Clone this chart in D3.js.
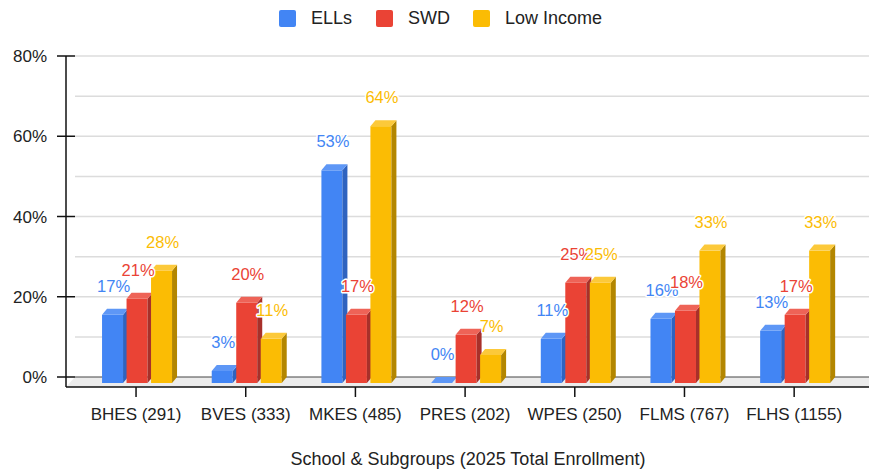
<!DOCTYPE html>
<html>
<head>
<meta charset="utf-8">
<script src="https://cdn.jsdelivr.net/npm/d3@7"></script>
<style>
  body { margin: 0; background: #fff; }
  text { font-family: Arial, "Liberation Sans", sans-serif; fill: #222; }
</style>
</head>
<body>
<div id="chart"></div>
<script>
/* DATA */
const schools = ["BHES (291)", "BVES (333)", "MKES (485)", "PRES (202)", "WPES (250)", "FLMS (767)", "FLHS (1155)"];
const seriesNames = ["ELLs", "SWD", "Low Income"];
const ells = [17, 3, 53, 0, 11, 16, 13];
const swd = [21, 20, 17, 12, 25, 18, 17];
const lowIncome = [28, 11, 64, 7, 25, 33, 33];
const yTicks = [0, 20, 40, 60, 80];

/* CONSTANTS */
const width = 869, height = 469;
const colors = {
  "ELLs": { front: "#4285f4", top: "#5e97f6", side: "#2f63bf" },
  "SWD": { front: "#ea4335", top: "#ee6357", side: "#a8302a" },
  "Low Income": { front: "#fbbc04", top: "#fcc93a", side: "#b38600" }
};
const depth = { dx: 5, dy: 6 }; // 3d offset
const shift = 6; // front faces sit lower than the back grid

const values = { "ELLs": ells, "SWD": swd, "Low Income": lowIncome };
const data = schools.map((s, i) => ({
  school: s,
  bars: seriesNames.map(k => ({ key: k, value: values[k][i] }))
}));

const svg = d3.select("#chart").append("svg")
  .attr("width", width)
  .attr("height", height);

// + SCALES
const xScale = d3.scaleBand().domain(schools).range([81.2, 849]);
const xSub = d3.scaleBand().domain(seriesNames).range([-34, 36]).paddingInner(0.1429);
const yScale = d3.scaleLinear().domain([0, 80]).range([377, 56]);

// + GRIDLINES (back wall)
svg.append("g")
  .selectAll("line")
  .data(d3.range(10, 81, 10))
  .join("line")
  .attr("x1", 75).attr("x2", width)
  .attr("y1", d => yScale(d)).attr("y2", d => yScale(d))
  .attr("stroke", "#dcdcdc")
  .attr("stroke-width", 1.5);

// floor
svg.append("path")
  .attr("d", `M66,387 L75,${yScale(0)} L${width},${yScale(0)} L${width},387 Z`)
  .attr("fill", "#ececec");
svg.append("line")
  .attr("x1", 75).attr("x2", width)
  .attr("y1", yScale(0)).attr("y2", yScale(0))
  .attr("stroke", "#444");

// + Y AXIS
const yAxis = svg.append("g");
yAxis.selectAll("line.tick")
  .data(yTicks)
  .join("line")
  .attr("class", "tick")
  .attr("x1", 57).attr("x2", 75)
  .attr("y1", d => yScale(d)).attr("y2", d => yScale(d))
  .attr("stroke", "#111").attr("stroke-width", 1.5);
yAxis.selectAll("text")
  .data(yTicks)
  .join("text")
  .attr("x", 47)
  .attr("y", d => yScale(d) + 6)
  .attr("text-anchor", "end")
  .attr("font-size", 17)
  .text(d => d + "%");
svg.append("line")
  .attr("x1", 66).attr("x2", 66)
  .attr("y1", yScale(80)).attr("y2", 387)
  .attr("stroke", "#111").attr("stroke-width", 1.5);

// + BARS
const groups = svg.append("g")
  .selectAll("g")
  .data(data)
  .join("g")
  .attr("transform", d => `translate(${xScale(d.school) + xScale.bandwidth() / 2},0)`);

const bar = groups.selectAll("g.bar")
  .data(d => d.bars)
  .join("g")
  .attr("class", "bar");

const w = xSub.bandwidth();
bar.each(function (d) {
  const g = d3.select(this);
  const x = xSub(d.key);
  const yt = yScale(d.value) + shift;
  const yb = yScale(0) + shift;
  const c = colors[d.key];
  if (yb - yt > 0.5) {
    g.append("rect")
      .attr("x", x).attr("y", yt)
      .attr("width", w).attr("height", yb - yt)
      .attr("fill", c.front);
    g.append("path")
      .attr("d", `M${x + w},${yt} L${x + w + depth.dx},${yt - depth.dy} L${x + w + depth.dx},${yb - depth.dy} L${x + w},${yb} Z`)
      .attr("fill", c.side);
  }
  g.append("path")
    .attr("d", `M${x},${yt} L${x + depth.dx},${yt - depth.dy} L${x + w + depth.dx},${yt - depth.dy} L${x + w},${yt} Z`)
    .attr("fill", c.top);
});

// + DATA LABELS
groups.selectAll("text.lbl")
  .data(d => d.bars)
  .join("text")
  .attr("class", "lbl")
  .attr("x", d => xSub(d.key) + w / 2 + 1)
  .attr("y", d => yScale(d.value) + shift - 23)
  .attr("text-anchor", "middle")
  .attr("font-size", 16.5)
  .style("fill", d => colors[d.key].front)
  .attr("stroke", "#fff")
  .attr("stroke-width", 3)
  .attr("stroke-linejoin", "round")
  .attr("paint-order", "stroke")
  .text(d => d.value + "%");

// + X AXIS
svg.append("line")
  .attr("x1", 66).attr("x2", width)
  .attr("y1", 387).attr("y2", 387)
  .attr("stroke", "#111").attr("stroke-width", 1.5);
const xAxis = svg.append("g");
xAxis.selectAll("line")
  .data(schools)
  .join("line")
  .attr("x1", d => xScale(d) + xScale.bandwidth() / 2)
  .attr("x2", d => xScale(d) + xScale.bandwidth() / 2)
  .attr("y1", 387).attr("y2", 397)
  .attr("stroke", "#111").attr("stroke-width", 1.5);
xAxis.selectAll("text")
  .data(schools)
  .join("text")
  .attr("x", d => xScale(d) + xScale.bandwidth() / 2)
  .attr("y", 420)
  .attr("text-anchor", "middle")
  .attr("font-size", 17)
  .text(d => d);

svg.append("text")
  .attr("x", 468)
  .attr("y", 465)
  .attr("text-anchor", "middle")
  .attr("font-size", 18)
  .text("School & Subgroups (2025 Total Enrollment)");

// + LEGEND
const legendX = [279, 376, 473];
const legend = svg.append("g")
  .selectAll("g")
  .data(seriesNames)
  .join("g")
  .attr("transform", (d, i) => `translate(${legendX[i]},10)`);
legend.append("rect")
  .attr("width", 17).attr("height", 17)
  .attr("rx", 2)
  .attr("fill", d => colors[d].front);
legend.append("text")
  .attr("x", 32)
  .attr("y", 14)
  .attr("font-size", 18)
  .text(d => d);
</script>
</body>
</html>
